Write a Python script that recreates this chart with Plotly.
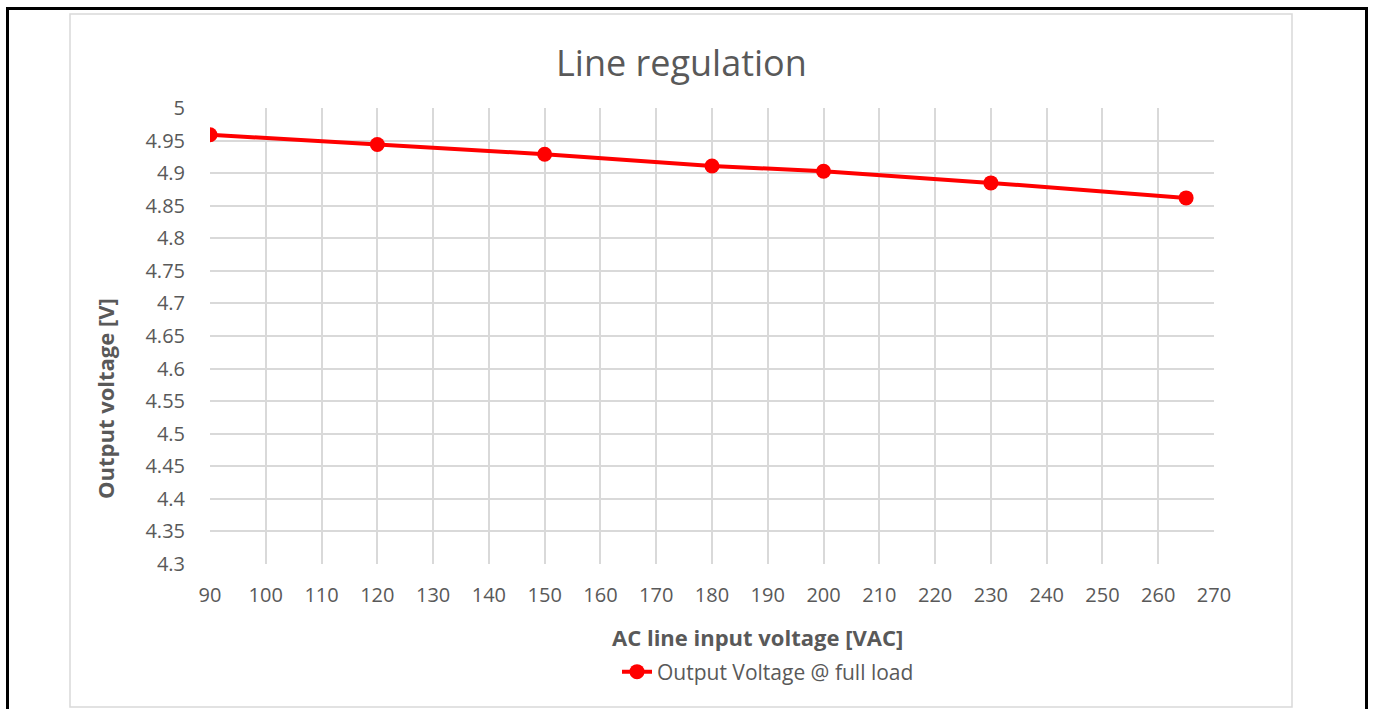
import plotly.graph_objects as go

# Measured output voltage vs. AC line input voltage
input_vac = [90, 120, 150, 180, 200, 230, 265]
output_v = [4.959, 4.944, 4.929, 4.911, 4.903, 4.885, 4.862]

series_name = "Output Voltage @ full load"
title_text = "Line regulation"
x_title = "AC line input voltage [VAC]"
y_title = "Output voltage [V]"

W, H = 1373, 709
L, R, T, B = 210, 1214, 108, 564
font_family = "Open Sans, Noto Sans, sans-serif"
text_color = "#595959"
grid_color = "#d9d9d9"


def px(x):
    return (x - L) / (R - L)


def py(y):
    return (B - y) / (B - T)


fig = go.Figure()
fig.add_trace(go.Scatter(
    x=input_vac, y=output_v, name=series_name,
    mode="lines+markers",
    line=dict(color="#ff0000", width=4),
    marker=dict(color="#ff0000", size=15),
    showlegend=True,
))

fig.update_layout(
    width=W, height=H,
    margin=dict(l=L, r=W - R, t=T, b=H - B),
    paper_bgcolor="white", plot_bgcolor="white",
    font=dict(family=font_family, color=text_color, size=20),
    showlegend=True,
    legend=dict(orientation="h", x=px(768), xanchor="center", y=py(672), yanchor="middle",
                font=dict(size=21, color=text_color)),
    xaxis=dict(range=[90, 270], dtick=10, tick0=90, showgrid=True, gridcolor=grid_color,
               gridwidth=1.5, zeroline=False, showline=False, ticks="outside", ticklen=13,
               tickcolor="rgba(0,0,0,0)", tickfont=dict(size=20, color=text_color)),
    yaxis=dict(range=[4.3, 5.0], dtick=0.05, tick0=4.3, showgrid=True, gridcolor=grid_color,
               gridwidth=1.5, zeroline=False, showline=False, ticks="outside", ticklen=20,
               tickcolor="rgba(0,0,0,0)", tickfont=dict(size=20, color=text_color)),
    annotations=[
        dict(text=title_text, x=px(681), y=py(62), xref="paper", yref="paper",
             xanchor="center", yanchor="middle",
             showarrow=False, font=dict(size=36, color=text_color)),
        dict(text="<b>%s</b>" % x_title, x=px(757), y=py(637), xref="paper", yref="paper",
             xanchor="center", yanchor="middle",
             showarrow=False, font=dict(size=22, color=text_color)),
        dict(text="<b>%s</b>" % y_title, x=px(105), y=py(399), xref="paper", yref="paper",
             xanchor="center", yanchor="middle",
             showarrow=False, textangle=-90, font=dict(size=22, color=text_color)),
    ],
    shapes=[
        dict(type="rect", xref="paper", yref="paper", x0=px(70), x1=px(1292), y0=py(707), y1=py(14),
             line=dict(color="#d9d9d9", width=1.5), layer="below"),
        dict(type="rect", xref="paper", yref="paper", x0=px(7.5), x1=px(1366.5), y0=py(720), y1=py(8.5),
             line=dict(color="black", width=3), layer="above"),
    ],
)

fig.write_html("out.html")
